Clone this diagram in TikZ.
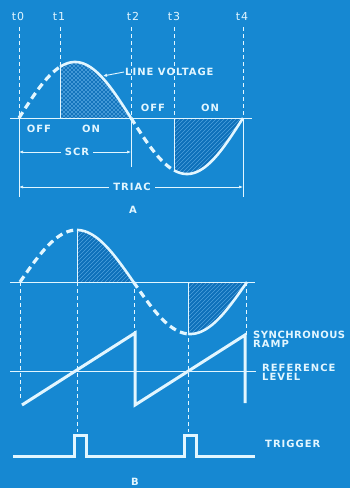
\documentclass[tikz,border=0pt]{standalone}
\usepackage{fontspec}
\setmainfont{DejaVu Sans}[LetterSpace=10]
\usetikzlibrary{arrows.meta}
\definecolor{bg}{RGB}{22,136,210}
\definecolor{ink}{RGB}{226,246,255}
\definecolor{darkfill}{RGB}{14,112,186}
\definecolor{hatchc}{RGB}{78,162,222}
\begin{document}
\begin{tikzpicture}[x=1pt,y=-1pt,
  lbl/.style={text=ink,font=\fontsize{10}{10}\selectfont\bfseries,inner sep=1pt},
  tlbl/.style={text=ink,font=\fontsize{11}{11}\selectfont,inner sep=1pt},
  wave/.style={ink,line width=2.6pt},
  dashwave/.style={ink,line width=3.2pt,dash pattern=on 7pt off 4.5pt},
  guide/.style={ink,line width=0.6pt,dash pattern=on 4pt off 3pt},
  ext/.style={ink,line width=0.6pt},
  axis/.style={ink,line width=1pt},
  ramp/.style={ink,line width=3pt,line join=miter},
  hl/.style={hatchc,line width=0.45pt},
  dim/.style={ink,line width=0.6pt,{Latex[length=4pt,width=3pt]}-{Latex[length=4pt,width=3pt]}},
  lead/.style={ink,line width=0.9pt,-{Latex[length=4pt,width=3.5pt]}}
]
\fill[bg] (0,0) rectangle (350,488);
\useasboundingbox (0,0) rectangle (350,488);

% ================= PART A =================
% hatched areas
\begin{scope}
\clip plot[domain=60:131,samples=40,smooth] (\x,{118-56*sin(1.607143*(\x-19))}) -- (131,118) -- (60,118) -- cycle;
\fill[darkfill] (55,55) rectangle (135,120);
\foreach \k in {-80,-76,...,80} {\draw[hl] (60+\k,120) -- (140+\k,40); \draw[hl] (60+\k,40) -- (140+\k,120);}
\end{scope}
\begin{scope}
\clip plot[domain=174:243,samples=40,smooth] (\x,{118-56*sin(1.607143*(\x-19))}) -- (174,118) -- cycle;
\fill[darkfill] (170,115) rectangle (248,180);
\foreach \k in {-80,-76,...,80} {\draw[hl] (174+\k,185) -- (254+\k,105);}
\end{scope}

% time labels
\node[tlbl] (t0) at (18,16) {t0};
\node[tlbl] (t1) at (59,16) {t1};
\node[tlbl] (t2) at (133,16) {t2};
\node[tlbl] (t3) at (174,16) {t3};
\node[tlbl] (t4) at (242,16) {t4};

% guide lines
\coordinate (a0top) at (19,27);  \coordinate (a0b) at (19,118); \coordinate (a0e) at (19,197);
\coordinate (a1top) at (60,27);  \coordinate (a1c) at (60,67);  \coordinate (a1b) at (60,118);
\coordinate (a2top) at (131,27); \coordinate (a2b) at (131,118); \coordinate (a2e) at (131,167);
\coordinate (a3top) at (174,27); \coordinate (a3b) at (174,118); \coordinate (a3c) at (174,170);
\coordinate (a4top) at (243,27); \coordinate (a4b) at (243,118); \coordinate (a4e) at (243,197);
\draw[guide] (a0top) -- (a0b);
\draw[guide] (a1top) -- (a1c);
\draw[guide] (a2top) -- (a2b);
\draw[guide] (a3top) -- (a3b);
\draw[guide] (a4top) -- (a4b);
\draw[ext] (a0b) -- (a0e);
\draw[ext] (a2b) -- (a2e);
\draw[ext] (a4b) -- (a4e);
\draw[ext,line width=0.9pt] (a1c) -- (a1b);
\draw[ext,line width=0.9pt] (a3b) -- (a3c);

% baseline
\coordinate (aL) at (10,118); \coordinate (aR) at (252,118);
\draw[axis] (aL) -- (aR);

% waveform
\draw[dashwave] plot[domain=19:60,samples=30,smooth] (\x,{118-56*sin(1.607143*(\x-19))});
\draw[wave] plot[domain=60:131,samples=50,smooth] (\x,{118-56*sin(1.607143*(\x-19))});
\draw[dashwave] plot[domain=131:174,samples=30,smooth] (\x,{118-56*sin(1.607143*(\x-19))});
\draw[wave] plot[domain=174:243,samples=50,smooth] (\x,{118-56*sin(1.607143*(\x-19))});

% line voltage label
\node[lbl,anchor=west] (lv) at (124,72) {LINE VOLTAGE};
\coordinate (lvtip) at (103,76);
\draw[lead] (lv.west) -- (lvtip);

% on/off labels
\node[lbl] (off1) at (153,108) {OFF};
\node[lbl] (on1) at (210,108) {ON};
\node[lbl] (off0) at (39,129) {OFF};
\node[lbl] (on0) at (91,129) {ON};

% dimension lines
\coordinate (scrL) at (19,152); \coordinate (scrR) at (131,152);
\draw[dim] (scrL) -- (scrR);
\node[lbl,fill=bg,inner xsep=4pt] (scr) at (77,152) {SCR};
\coordinate (triL) at (19,187); \coordinate (triR) at (243,187);
\draw[dim] (triL) -- (triR);
\node[lbl,fill=bg,inner xsep=4pt] (triac) at (132,187) {TRIAC};
\node[lbl] (A) at (133,210) {A};

% ================= PART B =================
\begin{scope}
\clip plot[domain=77:133.5,samples=40,smooth] (\x,{282-52*sin(1.585903*(\x-20))}) -- (77,282) -- cycle;
\fill[darkfill] (72,225) rectangle (138,285);
\foreach \k in {-80,-76,...,80} {\draw[hl] (77+\k,290) -- (147+\k,220);}
\end{scope}
\begin{scope}
\clip plot[domain=188:247,samples=40,smooth] (\x,{282-52*sin(1.585903*(\x-20))}) -- (188,282) -- cycle;
\fill[darkfill] (184,278) rectangle (252,340);
\foreach \k in {-80,-76,...,80} {\draw[hl] (188+\k,345) -- (258+\k,275);}
\end{scope}

% guides
\coordinate (b0b) at (20,282);  \coordinate (b0e) at (20,398);
\coordinate (b1t) at (77,230);  \coordinate (b1b) at (77,282);  \coordinate (b1e) at (77,432);
\coordinate (b2b) at (134,282); \coordinate (b2e) at (134,333);
\coordinate (b3t) at (188,334); \coordinate (b3b) at (188,282); \coordinate (b3e) at (188,432);
\coordinate (b4b) at (246,282); \coordinate (b4e) at (246,335);
\draw[guide] (b0b) -- (b0e);
\draw[guide] (b1b) -- (b1e);
\draw[guide] (b2b) -- (b2e);
\draw[guide] (b3b) -- (b3e);
\draw[guide] (b4b) -- (b4e);
\draw[ext,line width=0.9pt] (b1t) -- (b1b);
\draw[ext,line width=0.9pt] (b3b) -- (b3t);

% baseline
\coordinate (bL) at (10,282); \coordinate (bR) at (255,282);
\draw[axis] (bL) -- (bR);

% waveform
\draw[dashwave] plot[domain=20:77,samples=30,smooth] (\x,{282-52*sin(1.585903*(\x-20))});
\draw[wave] plot[domain=77:133.5,samples=50,smooth] (\x,{282-52*sin(1.585903*(\x-20))});
\draw[dashwave] plot[domain=133.5:188,samples=30,smooth] (\x,{282-52*sin(1.585903*(\x-20))});
\draw[wave] plot[domain=188:247,samples=50,smooth] (\x,{282-52*sin(1.585903*(\x-20))});

% reference level
\coordinate (rL) at (10,371); \coordinate (rR) at (256,371);
\draw[axis] (rL) -- (rR);

% ramp
\coordinate (r0) at (22,405); \coordinate (r1) at (135,333); \coordinate (r2) at (135,405);
\coordinate (r3) at (245,335); \coordinate (r4) at (245,403);
\draw[ramp] (r0) -- (r1) -- (r2) -- (r3) -- (r4);

\node[lbl,anchor=west,align=left] (sync) at (252,339) {\addfontfeature{LetterSpace=5}SYNCHRONOUS\\[-1pt]RAMP};
\node[lbl,anchor=west,align=left] (refl) at (261,372) {REFERENCE\\[-1pt]LEVEL};

% trigger
\coordinate (g0) at (13,456); \coordinate (g1) at (74,456); \coordinate (g2) at (74,435);
\coordinate (g3) at (86,435); \coordinate (g4) at (86,456); \coordinate (g5) at (184,456);
\coordinate (g6) at (184,435); \coordinate (g7) at (196,435); \coordinate (g8) at (196,456);
\coordinate (g9) at (255,456);
\draw[ramp] (g0) -- (g1) -- (g2) -- (g3) -- (g4) -- (g5) -- (g6) -- (g7) -- (g8) -- (g9);
\node[lbl,anchor=west] (trig) at (264,444) {TRIGGER};
\node[lbl] (B) at (135,482) {B};
\end{tikzpicture}
\end{document}
